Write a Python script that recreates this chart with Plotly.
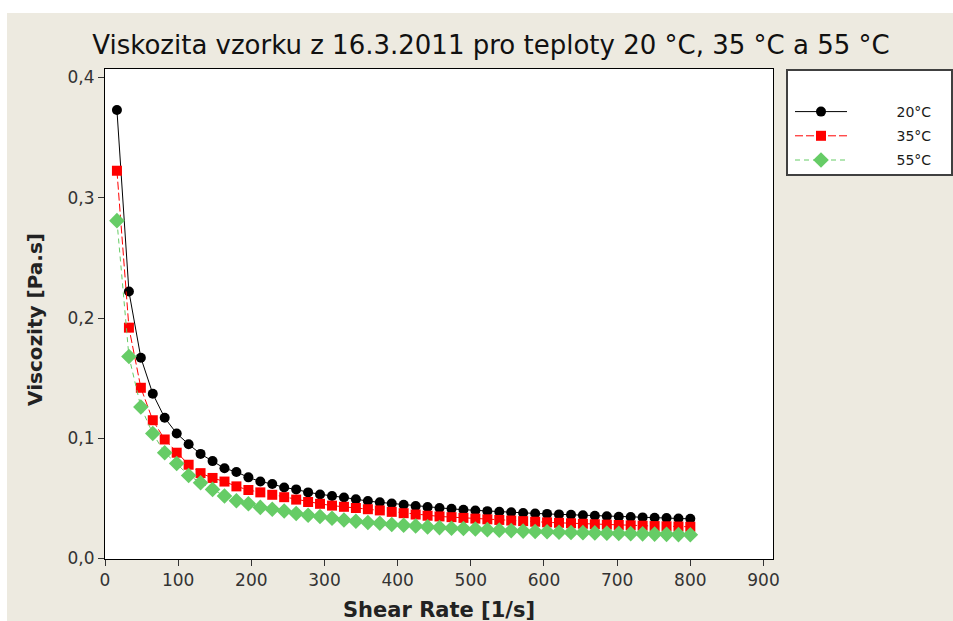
import plotly.graph_objects as go

# Shear rate [1/s]
shear_rate = [16.3, 32.7, 49.0, 65.3, 81.6, 98.0, 114.3, 130.6, 147.0, 163.3,
              179.6, 196.0, 212.3, 228.6, 244.9, 261.3, 277.6, 293.9, 310.3, 326.6,
              342.9, 359.3, 375.6, 391.9, 408.2, 424.6, 440.9, 457.2, 473.6, 489.9,
              506.2, 522.6, 538.9, 555.2, 571.5, 587.9, 604.2, 620.5, 636.9, 653.2,
              669.5, 685.9, 702.2, 718.5, 734.8, 751.2, 767.5, 783.8, 800.0]

visc_20 = [0.373, 0.222, 0.167, 0.137, 0.117, 0.104, 0.095, 0.087, 0.081, 0.075,
           0.072, 0.0675, 0.064, 0.062, 0.059, 0.0575, 0.055, 0.0532, 0.052, 0.0508,
           0.0492, 0.0478, 0.0467, 0.0458, 0.0447, 0.0436, 0.0428, 0.0420, 0.0413, 0.0406,
           0.0400, 0.0394, 0.0389, 0.0384, 0.0379, 0.0375, 0.0371, 0.0367, 0.0363, 0.0359,
           0.0355, 0.0352, 0.0348, 0.0345, 0.0342, 0.0339, 0.0336, 0.0333, 0.0330]

visc_35 = [0.3225, 0.192, 0.142, 0.115, 0.099, 0.088, 0.078, 0.071, 0.067, 0.064,
           0.060, 0.057, 0.055, 0.053, 0.051, 0.049, 0.047, 0.0455, 0.044, 0.043,
           0.042, 0.041, 0.040, 0.0388, 0.0377, 0.0366, 0.0356, 0.0350, 0.0344, 0.0338,
           0.0332, 0.0326, 0.0321, 0.0316, 0.0311, 0.0306, 0.0301, 0.0297, 0.0293, 0.0289,
           0.0285, 0.0282, 0.0279, 0.0276, 0.0273, 0.0270, 0.0268, 0.0266, 0.0264]

visc_55 = [0.281, 0.168, 0.126, 0.104, 0.088, 0.079, 0.069, 0.063, 0.0575, 0.052,
           0.048, 0.0455, 0.0425, 0.041, 0.0395, 0.0375, 0.036, 0.035, 0.0335, 0.032,
           0.031, 0.030, 0.0293, 0.0283, 0.0277, 0.0270, 0.0263, 0.0257, 0.0252, 0.0250,
           0.0245, 0.0240, 0.0236, 0.0232, 0.0228, 0.0225, 0.0222, 0.0219, 0.0217, 0.0215,
           0.0213, 0.0211, 0.0209, 0.0207, 0.0205, 0.0203, 0.0201, 0.0199, 0.0198]

series_names = ["20°C", "35°C", "55°C"]
x_ticks = [0, 100, 200, 300, 400, 500, 600, 700, 800, 900]
y_ticks = [0.0, 0.1, 0.2, 0.3, 0.4]
title_text = "Viskozita vzorku z 16.3.2011 pro teploty 20 °C, 35 °C a 55 °C"
x_title = "Shear Rate [1/s]"
y_title = "Viscozity [Pa.s]"

W, H = 953, 621
L, R, T, B = 105, 773, 69, 559  # plot area in px


def px_x(p):
    return (p - L) / (R - L)


def px_y(p):
    return (B - p) / (B - T)


FONT = "DejaVu Sans"
TXT = "#1a1a1a"
PAD = "\u00a0" * 10

fig = go.Figure()
fig.add_trace(go.Scatter(
    x=shear_rate, y=visc_20, name=PAD + series_names[0], legendgroup="a",
    mode="lines+markers",
    line=dict(color="#000000", width=1),
    marker=dict(symbol="circle", size=10, color="#000000", line=dict(width=0)),
))
fig.add_trace(go.Scatter(
    x=shear_rate, y=visc_35, name=PAD + series_names[1], legendgroup="b",
    mode="lines+markers",
    line=dict(color="#ff0000", width=1, dash="8px,3px"),
    marker=dict(symbol="square", size=10, color="#ff0000", line=dict(width=0)),
))
fig.add_trace(go.Scatter(
    x=shear_rate, y=visc_55, name=PAD + series_names[2], legendgroup="c",
    mode="lines+markers",
    line=dict(color="#66cc66", width=1, dash="5px,4px"),
    marker=dict(symbol="diamond", size=12, color="#66cc66", line=dict(width=0)),
))

shapes = [
    # white strips of the screenshot border
    dict(type="rect", xref="paper", yref="paper", layer="below",
         x0=px_x(-20), x1=px_x(W + 20), y0=px_y(13), y1=px_y(-20),
         fillcolor="white", line=dict(width=0)),
    dict(type="rect", xref="paper", yref="paper", layer="below",
         x0=px_x(-20), x1=px_x(7), y0=px_y(H + 20), y1=px_y(-20),
         fillcolor="white", line=dict(width=0)),
    # legend frame
    dict(type="rect", xref="paper", yref="paper", layer="below",
         x0=px_x(787), x1=px_x(952), y0=px_y(175), y1=px_y(70),
         fillcolor="white", line=dict(color="#404040", width=2)),
]

annotations = [
    dict(text="<b>" + x_title + "</b>", xref="paper", yref="paper",
         x=px_x(439), y=px_y(610), xanchor="center", yanchor="middle",
         showarrow=False, font=dict(family=FONT, size=21, color="#222222")),
    dict(text="<b>" + y_title + "</b>", xref="paper", yref="paper",
         x=px_x(35), y=px_y(320), xanchor="center", yanchor="middle",
         textangle=-90, showarrow=False,
         font=dict(family=FONT, size=20, color="#222222")),
]

fig.update_layout(
    width=W, height=H,
    margin=dict(l=L, r=W - R, t=T, b=H - B, pad=0, autoexpand=False),
    paper_bgcolor="#edeae0",
    plot_bgcolor="white",
    separators=",.",
    font=dict(family=FONT, color=TXT),
    title=dict(text=title_text,
               x=(92 + 890) / 2 / W, xanchor="center",
               y=1 - 45 / H, yanchor="middle",
               font=dict(family=FONT, size=26, color="#111111")),
    showlegend=True,
    legend=dict(
        x=px_x(790), y=px_y(96), xanchor="left", yanchor="top",
        bgcolor="rgba(0,0,0,0)", borderwidth=0,
        font=dict(family=FONT, size=14, color=TXT),
        itemwidth=52, tracegroupgap=3,
        traceorder="grouped",
    ),
    shapes=shapes,
    annotations=annotations,
    xaxis=dict(
        range=[0, 913], tickvals=x_ticks, ticks="outside", ticklen=6,
        tickcolor="#333333", tickfont=dict(size=17, color="#333333"),
        showline=True, linecolor="#000000", linewidth=1, mirror=True,
        showgrid=False, zeroline=False, automargin=False,
    ),
    yaxis=dict(
        range=[-0.0004, 0.4071], tickvals=y_ticks, tickformat=".1f",
        ticks="outside", ticklen=6,
        tickcolor="#333333", tickfont=dict(size=17, color="#333333"),
        showline=True, linecolor="#000000", linewidth=1, mirror=True,
        showgrid=False, zeroline=False, automargin=False,
    ),
)

fig.write_html("out.html")
